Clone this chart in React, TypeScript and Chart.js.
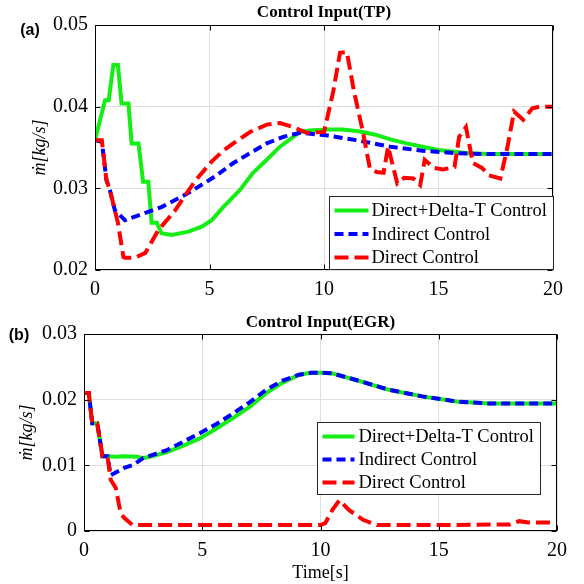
import React, { useEffect, useRef } from 'react';
import { Chart, registerables } from 'chart.js';
Chart.register(...registerables);

// ---------- Panel (a): Control Input (TP) ----------
const tpDeltaT_t = [0, 0.44, 0.6, 0.8, 1.0, 1.16, 1.46, 1.6, 1.9, 2.1, 2.33, 2.47, 2.7, 2.9, 3.35, 4.08, 4.66, 5.1, 5.6, 6.33, 6.9, 7.5, 8.08, 8.66, 8.95, 9.5, 10.2, 10.8, 11.5, 12.2, 12.9, 13.6, 14.3, 15.0, 15.6, 16.3, 17.2, 18, 19, 20];
const tpDeltaT_v = [0.0359, 0.0408, 0.0408, 0.0451, 0.0451, 0.0404, 0.0404, 0.0355, 0.0355, 0.0308, 0.0308, 0.0258, 0.0258, 0.0245, 0.0243, 0.0247, 0.0253, 0.0261, 0.0277, 0.0298, 0.0319, 0.0335, 0.0351, 0.0363, 0.0369, 0.0371, 0.0372, 0.0372, 0.037, 0.0366, 0.036, 0.0355, 0.0351, 0.0347, 0.0345, 0.0343, 0.0342, 0.0342, 0.0342, 0.0342];

const tpIndirect_t = [0, 0.3, 0.5, 0.65, 0.87, 1.31, 1.9, 2.9, 3.93, 4.7, 5.31, 6.04, 6.77, 7.5, 8.22, 8.95, 10.1, 11.4, 12.9, 14.3, 15.8, 17, 18, 20];
const tpIndirect_v = [0.0359, 0.0357, 0.031, 0.0298, 0.0273, 0.0261, 0.0267, 0.0277, 0.0292, 0.0305, 0.0316, 0.0331, 0.0343, 0.0355, 0.0363, 0.0368, 0.0365, 0.0359, 0.0351, 0.0346, 0.0343, 0.0342, 0.0342, 0.0342];

const tpDirect_t = [0, 0.3, 0.5, 0.65, 1.0, 1.24, 1.3, 1.75, 2.2, 2.77, 3.5, 3.9, 4.4, 5.1, 5.6, 6.04, 6.77, 7.5, 8.08, 8.66, 9.24, 10.0, 10.4, 10.7, 11.0, 11.3, 11.7, 12.0, 12.3, 12.6, 12.8, 13.2, 13.5, 13.9, 14.2, 14.4, 14.8, 15.2, 15.7, 15.9, 16.2, 16.5, 16.9, 17.2, 17.7, 18.0, 18.3, 18.7, 19.1, 19.4, 20];
const tpDirect_v = [0.0359, 0.0359, 0.031, 0.0298, 0.0258, 0.0216, 0.0215, 0.0215, 0.0221, 0.0249, 0.0273, 0.029, 0.031, 0.0333, 0.0346, 0.0355, 0.0369, 0.0378, 0.038, 0.0375, 0.0368, 0.0369, 0.0418, 0.0466, 0.0467, 0.042, 0.0369, 0.0325, 0.032, 0.0319, 0.0351, 0.0306, 0.0313, 0.0312, 0.0304, 0.0335, 0.0325, 0.0323, 0.0326, 0.0363, 0.0375, 0.0331, 0.0325, 0.0316, 0.0312, 0.0349, 0.0394, 0.0384, 0.0398, 0.04, 0.04];

const tpYTicks = [0.02, 0.03, 0.04, 0.05];
const tpYTickLabels = ['0.02', '0.03', '0.04', '0.05'];

// ---------- Panel (b): Control Input (EGR) ----------
const egrDeltaT_t = [0, 0.2, 0.35, 0.56, 0.78, 0.99, 1.3, 1.7, 2.25, 2.5, 3.0, 3.5, 4.2, 4.9, 5.6, 6.3, 7.0, 7.7, 8.4, 9.1, 9.6, 10.0, 10.5, 11.5, 12.9, 14.3, 15.8, 17.2, 18, 19, 20];
const egrDeltaT_v = [0.021, 0.021, 0.0164, 0.0164, 0.0114, 0.0114, 0.0113, 0.0114, 0.0113, 0.0111, 0.0115, 0.012, 0.013, 0.0141, 0.0156, 0.0172, 0.0189, 0.021, 0.0226, 0.0238, 0.0241, 0.0241, 0.024, 0.023, 0.0215, 0.0205, 0.0197, 0.0194, 0.0194, 0.0194, 0.0194];

const egrIndirect_t = [0, 0.2, 0.35, 0.56, 0.78, 0.99, 1.13, 1.7, 2.1, 2.5, 3.5, 4.2, 4.9, 5.6, 6.3, 7.0, 7.7, 8.4, 9.1, 9.6, 10, 10.5, 11.5, 12.9, 14.3, 15.8, 17.2, 18, 20];
const egrIndirect_v = [0.021, 0.021, 0.0164, 0.0164, 0.0114, 0.0114, 0.0085, 0.0096, 0.0101, 0.0111, 0.0123, 0.0136, 0.0149, 0.0163, 0.0179, 0.0196, 0.0215, 0.0229, 0.0238, 0.0241, 0.0241, 0.024, 0.023, 0.0215, 0.0205, 0.0197, 0.0194, 0.0194, 0.0194];

const egrDirect_t = [0, 0.2, 0.35, 0.56, 0.78, 0.99, 1.13, 1.34, 1.55, 1.7, 2.05, 5, 10.0, 10.2, 10.5, 10.8, 11.2, 11.8, 12.4, 15, 18.0, 18.4, 18.8, 20];
const egrDirect_v = [0.021, 0.021, 0.0164, 0.0164, 0.0114, 0.0114, 0.0078, 0.0066, 0.0027, 0.002, 0.0009, 0.0009, 0.0009, 0.0012, 0.0032, 0.0047, 0.0032, 0.0017, 0.0009, 0.0009, 0.001, 0.0015, 0.0013, 0.0013];

const egrYTicks = [0, 0.01, 0.02, 0.03];
const egrYTickLabels = ['0', '0.01', '0.02', '0.03'];

const xTicks = [0, 5, 10, 15, 20];
const xTickLabels = ['0', '5', '10', '15', '20'];

const seriesNames = ['Direct+Delta-T Control', 'Indirect Control', 'Direct Control'];
const SERIF = "'Liberation Serif', 'DejaVu Serif', serif";

const styles = [
  { color: '#14ee14', width: 4, dash: [] as number[], order: 3 },
  { color: '#0000ff', width: 4, dash: [9, 5], order: 2 },
  { color: '#ff0000', width: 4, dash: [14, 6], order: 1 },
];

const mk = (t: number[], v: number[]) => t.map((x, i) => ({ x, y: v[i] }));

const decorPlugin = {
  id: 'decor',
  afterDraw(chart: any, _args: any, opts: any) {
    const { ctx, chartArea: a } = chart;
    const xs = chart.scales.x;
    const ys = chart.scales.y;
    ctx.save();
    // frame
    ctx.strokeStyle = '#000';
    ctx.lineWidth = 1;
    const L = Math.round(a.left) + 0.5, R = Math.round(a.right) - 0.5;
    const T = Math.round(a.top) + 0.5, B = Math.round(a.bottom) - 0.5;
    ctx.strokeRect(L, T, R - L, B - T);
    // inward ticks
    ctx.beginPath();
    for (const v of opts.xTicks) {
      const px = Math.round(xs.getPixelForValue(v)) + 0.5;
      ctx.moveTo(px, B); ctx.lineTo(px, B - 5);
      ctx.moveTo(px, T); ctx.lineTo(px, T + 5);
    }
    for (const v of opts.yTicks) {
      const py = Math.round(ys.getPixelForValue(v)) + 0.5;
      ctx.moveTo(L, py); ctx.lineTo(L + 5, py);
      ctx.moveTo(R, py); ctx.lineTo(R - 5, py);
    }
    ctx.stroke();
    // title
    ctx.fillStyle = '#000';
    ctx.font = `bold 17px ${SERIF}`;
    ctx.textAlign = 'center';
    ctx.textBaseline = 'middle';
    ctx.fillText(opts.title, (a.left + a.right) / 2, opts.titleY);
    // panel label
    ctx.font = "bold 16px 'Liberation Sans', Arial, sans-serif";
    ctx.fillText(opts.panel, opts.panelX, opts.panelY);
    // legend
    const lg = opts.legend;
    const bx = Math.round(a.left + lg.left) + 0.5;
    const by = Math.round(a.top + lg.top) + 0.5;
    ctx.fillStyle = '#fff';
    ctx.fillRect(bx, by, lg.width, lg.height);
    ctx.strokeStyle = '#262626';
    ctx.lineWidth = 1;
    ctx.strokeRect(bx, by, lg.width, lg.height);
    ctx.font = `18.5px ${SERIF}`;
    ctx.textAlign = 'left';
    ctx.textBaseline = 'middle';
    seriesNames.forEach((name, i) => {
      const st = styles[i];
      const yy = by + lg.row0 + i * lg.rowGap;
      ctx.save();
      ctx.strokeStyle = st.color;
      ctx.lineWidth = st.width;
      ctx.setLineDash(st.dash);
      ctx.beginPath();
      ctx.moveTo(bx + lg.lineX0, yy);
      ctx.lineTo(bx + lg.lineX1, yy);
      ctx.stroke();
      ctx.restore();
      ctx.fillStyle = '#000';
      ctx.fillText(name, bx + lg.textX, yy + 1);
    });
    ctx.restore();
  },
};

type PanelCfg = {
  height: number;
  series: { t: number[]; v: number[] }[];
  yMin: number; yMax: number;
  yTicks: number[]; yTickLabels: string[];
  padding: { left: number; right: number; top: number; bottom: number };
  yWidth: number; xHeight: number;
  yTitlePad: number;
  showXTitle: boolean;
  decor: any;
};

function Panel({ cfg }: { cfg: PanelCfg }) {
  const ref = useRef<HTMLCanvasElement | null>(null);
  useEffect(() => {
    if (!ref.current) return;
    const chart = new Chart(ref.current, {
      type: 'line',
      data: {
        datasets: cfg.series.map((s, i) => ({
          label: seriesNames[i],
          data: mk(s.t, s.v),
          borderColor: styles[i].color,
          backgroundColor: styles[i].color,
          borderWidth: styles[i].width,
          borderDash: styles[i].dash,
          pointRadius: 0,
          tension: 0,
          fill: false,
          order: styles[i].order,
        })),
      },
      options: {
        responsive: false,
        animation: false,
        devicePixelRatio: 1,
        layout: { padding: cfg.padding },
        plugins: {
          legend: { display: false },
          tooltip: { enabled: false },
          decor: cfg.decor,
        } as any,
        scales: {
          x: {
            type: 'linear',
            min: 0, max: 20,
            afterBuildTicks: (s: any) => { s.ticks = xTicks.map((v) => ({ value: v })); },
            afterFit: (s: any) => { s.height = cfg.xHeight; },
            ticks: {
              padding: 8,
              color: '#000',
              font: { family: SERIF, size: 20 },
              callback: (v: any) => { const k = xTicks.indexOf(Number(v)); return k >= 0 ? xTickLabels[k] : ''; },
              maxRotation: 0,
            },
            grid: { color: '#dedede', drawTicks: false, lineWidth: 1 },
            border: { display: false },
            title: {
              display: cfg.showXTitle,
              text: 'Time[s]',
              color: '#000',
              font: { family: SERIF, size: 18 },
              padding: { top: 0, bottom: 0 },
            },
          },
          y: {
            type: 'linear',
            min: cfg.yMin, max: cfg.yMax,
            afterBuildTicks: (s: any) => { s.ticks = cfg.yTicks.map((v) => ({ value: v })); },
            afterFit: (s: any) => { s.width = cfg.yWidth; },
            ticks: {
              padding: 7,
              color: '#000',
              font: { family: SERIF, size: 20 },
              callback: (v: any) => {
                const k = cfg.yTicks.findIndex((t) => Math.abs(t - Number(v)) < 1e-9);
                return k >= 0 ? cfg.yTickLabels[k] : '';
              },
            },
            grid: { color: '#dedede', drawTicks: false, lineWidth: 1 },
            border: { display: false },
            title: {
              display: true,
              text: 'ṁ[kg/s]',
              color: '#000',
              font: { family: SERIF, size: 18, style: 'italic' },
              padding: { top: cfg.yTitlePad, bottom: 0 },
            },
          },
        },
      },
      plugins: [decorPlugin as any],
    });
    return () => chart.destroy();
  }, [cfg]);
  return <canvas ref={ref} width={584} height={cfg.height} style={{ display: 'block', width: 584, height: cfg.height }} />;
}

const topCfg: PanelCfg = {
  height: 295,
  series: [
    { t: tpDeltaT_t, v: tpDeltaT_v },
    { t: tpIndirect_t, v: tpIndirect_v },
    { t: tpDirect_t, v: tpDirect_v },
  ],
  yMin: 0.02, yMax: 0.05,
  yTicks: tpYTicks, yTickLabels: tpYTickLabels,
  padding: { left: 20, right: 31, top: 25, bottom: 0 },
  yWidth: 75, xHeight: 25,
  yTitlePad: 9,
  showXTitle: false,
  decor: {
    title: 'Control Input(TP)', titleY: 13,
    panel: '(a)', panelX: 30, panelY: 31,
    xTicks, yTicks: tpYTicks,
    legend: { left: 234, top: 171, width: 224, height: 73, row0: 14, rowGap: 23.5, lineX0: 5, lineX1: 39, textX: 42 },
  },
};

const bottomCfg: PanelCfg = {
  height: 289,
  series: [
    { t: egrDeltaT_t, v: egrDeltaT_v },
    { t: egrIndirect_t, v: egrIndirect_v },
    { t: egrDirect_t, v: egrDirect_v },
  ],
  yMin: 0, yMax: 0.03,
  yTicks: egrYTicks, yTickLabels: egrYTickLabels,
  padding: { left: 8, right: 27, top: 39, bottom: 0 },
  yWidth: 76, xHeight: 53,
  yTitlePad: 8,
  showXTitle: true,
  decor: {
    title: 'Control Input(EGR)', titleY: 28,
    panel: '(b)', panelX: 19, panelY: 41,
    xTicks, yTicks: egrYTicks,
    legend: { left: 233, top: 88, width: 223, height: 72, row0: 14, rowGap: 23, lineX0: 5, lineX1: 37, textX: 41 },
  },
};

export default function App() {
  return (
    <div style={{ position: 'absolute', left: 0, top: 0, width: 584, height: 584, background: '#fff' }}>
      <Panel cfg={topCfg} />
      <Panel cfg={bottomCfg} />
    </div>
  );
}
